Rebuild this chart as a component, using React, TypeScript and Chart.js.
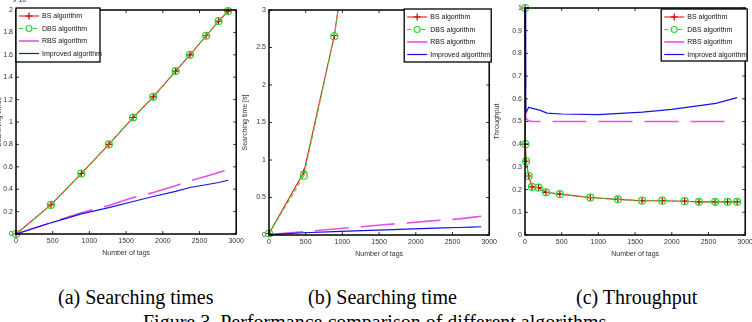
import React, { useEffect, useRef } from 'react';
import { Chart, registerables } from 'chart.js';
Chart.register(...registerables);

// ---------- data ----------
const legendLabels = ['BS algorithm', 'DBS algorithm', 'RBS algorithm', 'Improved algorithm'];
const xTicks = [0, 500, 1000, 1500, 2000, 2500, 3000];

// (a) searching times (x 10^4)
const tagsA = [1, 475, 890, 1265, 1595, 1870, 2175, 2370, 2590, 2760, 2890];
const bsA = [0, 0.26, 0.54, 0.8, 1.04, 1.225, 1.455, 1.6, 1.77, 1.9, 1.99];
const dbsA = [0, 0.26, 0.54, 0.8, 1.04, 1.225, 1.455, 1.6, 1.77, 1.9, 1.99];
const rbsA = [0, 0.1, 0.19, 0.255, 0.325, 0.37, 0.43, 0.475, 0.515, 0.55, 0.575];
const impA = [0, 0.1, 0.18, 0.235, 0.29, 0.335, 0.38, 0.415, 0.44, 0.46, 0.48];

// (b) searching time [s]
const tagsB = [1, 475, 890, 1265];
const bsB = [0.02, 0.84, 2.66, 5.2];
const dbsB = [0.02, 0.79, 2.65, 5.2];
const tagsB2 = [1, 475, 890, 1265, 1595, 1870, 2175, 2370, 2590, 2760, 2890];
const rbsB = [0.005, 0.045, 0.08, 0.11, 0.14, 0.16, 0.185, 0.2, 0.215, 0.235, 0.25];
const impB = [0.005, 0.03, 0.045, 0.058, 0.068, 0.078, 0.088, 0.095, 0.1, 0.106, 0.11];

// (c) throughput
const tagsC = [1, 5, 15, 50, 95, 185, 285, 475, 890, 1265, 1595, 1870, 2175, 2370, 2590, 2760, 2890];
const bsC = [1.0, 0.4, 0.325, 0.26, 0.212, 0.209, 0.188, 0.18, 0.165, 0.157, 0.151, 0.151, 0.149, 0.146, 0.146, 0.146, 0.146];
const dbsC = [1.0, 0.4, 0.325, 0.26, 0.212, 0.209, 0.188, 0.18, 0.165, 0.157, 0.151, 0.151, 0.149, 0.146, 0.146, 0.146, 0.146];
const tagsC2 = [1, 10, 50, 100, 300, 900, 1600, 2200, 2750];
const rbsC = [1.0, 0.515, 0.503, 0.5, 0.5, 0.5, 0.5, 0.5, 0.5];
const tagsC3 = [1, 10, 50, 100, 200, 300, 500, 1000, 1600, 2000, 2400, 2600, 2890];
const impC = [1.0, 0.537, 0.563, 0.558, 0.55, 0.537, 0.533, 0.53, 0.541, 0.553, 0.571, 0.58, 0.605];

// ---------- styles ----------
const RED = '#f01414';
const GREEN = '#2fd42f';
const PINK = '#e650e6';
const BLUE = '#1414e6';
const FONT = "'Liberation Sans', Arial, Helvetica, sans-serif";

const pts = (xs: number[], ys: number[]) => xs.map((x, i) => ({ x, y: ys[i] }));

function makeDatasets(bs: any[], dbs: any[], rbs: any[], imp: any[]) {
  return [
    { label: legendLabels[0], data: bs, borderColor: RED, backgroundColor: RED, borderWidth: 1.1,
      pointStyle: 'cross', pointRadius: 3.5, pointBorderWidth: 1.2, pointBorderColor: '#c00000', order: 4 },
    { label: legendLabels[1], data: dbs, borderColor: GREEN, backgroundColor: 'rgba(0,0,0,0)', borderWidth: 1.1,
      borderDash: [4, 3], pointStyle: 'circle', pointRadius: 3.5, pointBorderWidth: 1.2, pointBorderColor: GREEN, order: 3 },
    { label: legendLabels[2], data: rbs, borderColor: PINK, backgroundColor: PINK, borderWidth: 1.6,
      borderDash: [34, 12], pointRadius: 0, order: 2 },
    { label: legendLabels[3], data: imp, borderColor: BLUE, backgroundColor: BLUE, borderWidth: 1.2,
      pointRadius: 0, order: 1 },
  ];
}

type PanelCfg = {
  left: number; top: number; width: number; height: number;
  yWidth: number; xHeight: number; padTop: number; padRight: number;
  yMax: number; yStep: number; yTitle: string;
  legend: { side: 'left' | 'right'; dx: number; dy: number; w: number; h: number };
  clipTop: number;
  exponent?: boolean;
  datasets: any[];
};

const framePlugin = {
  id: 'matlabFrame',
  afterDraw(chart: any) {
    const cfg = chart.options.plugins.matlabFrame as PanelCfg;
    const ctx = chart.ctx;
    const ca = chart.chartArea;
    const xs = chart.scales.x;
    const ys = chart.scales.y;
    ctx.save();
    // inner ticks
    ctx.strokeStyle = '#000';
    ctx.lineWidth = 0.8;
    ctx.beginPath();
    xs.ticks.forEach((t: any) => {
      const px = xs.getPixelForValue(t.value);
      ctx.moveTo(px, ca.bottom); ctx.lineTo(px, ca.bottom - 3);
      ctx.moveTo(px, ca.top); ctx.lineTo(px, ca.top + 3);
    });
    ys.ticks.forEach((t: any) => {
      const py = ys.getPixelForValue(t.value);
      ctx.moveTo(ca.left, py); ctx.lineTo(ca.left + 3, py);
      ctx.moveTo(ca.right, py); ctx.lineTo(ca.right - 3, py);
    });
    ctx.stroke();
    // box
    ctx.lineWidth = 1.5;
    ctx.strokeRect(ca.left, ca.top, ca.right - ca.left, ca.bottom - ca.top);

    // exponent
    if (cfg.exponent) {
      ctx.fillStyle = '#222';
      ctx.font = `7px ${FONT}`;
      ctx.textBaseline = 'bottom';
      ctx.textAlign = 'left';
      ctx.fillText('x 10', ca.left - 3, ca.top - 6);
    }

    // legend
    const lg = cfg.legend;
    const bx = lg.side === 'left' ? ca.left + lg.dx : ca.right + lg.dx - lg.w;
    const by = ca.top + lg.dy;
    ctx.fillStyle = '#fff';
    ctx.fillRect(bx, by, lg.w, lg.h);
    ctx.lineWidth = 1.3;
    ctx.strokeStyle = '#000';
    ctx.strokeRect(bx, by, lg.w, lg.h);
    chart.data.datasets.forEach((ds: any, i: number) => {
      const cy = by + 8 + i * 12.5;
      const x0 = bx + 3, x1 = bx + 23;
      ctx.save();
      ctx.strokeStyle = ds.borderColor;
      ctx.lineWidth = ds.borderWidth;
      ctx.setLineDash(ds.borderDash ? [4, 3] : []);
      if (i === 2) ctx.setLineDash([]);
      ctx.beginPath();
      ctx.moveTo(x0, cy); ctx.lineTo(x1, cy);
      ctx.stroke();
      ctx.setLineDash([]);
      const mx = (x0 + x1) / 2;
      if (ds.pointStyle === 'cross' && ds.pointRadius > 0) {
        ctx.strokeStyle = ds.pointBorderColor;
        ctx.lineWidth = 1.2;
        ctx.beginPath();
        ctx.moveTo(mx - 3.5, cy); ctx.lineTo(mx + 3.5, cy);
        ctx.moveTo(mx, cy - 3.5); ctx.lineTo(mx, cy + 3.5);
        ctx.stroke();
      } else if (ds.pointStyle === 'circle' && ds.pointRadius > 0) {
        ctx.strokeStyle = ds.pointBorderColor;
        ctx.fillStyle = '#fff';
        ctx.lineWidth = 1.2;
        ctx.beginPath();
        ctx.arc(mx, cy, 3, 0, Math.PI * 2);
        ctx.fill();
        ctx.stroke();
      }
      ctx.restore();
      ctx.fillStyle = '#111';
      ctx.font = `7px ${FONT}`;
      ctx.textBaseline = 'middle';
      ctx.textAlign = 'left';
      ctx.fillText(ds.label, bx + 26, cy + 0.5);
    });
    ctx.restore();
  },
};

function Panel({ cfg }: { cfg: PanelCfg }) {
  const ref = useRef<HTMLCanvasElement | null>(null);
  useEffect(() => {
    if (!ref.current) return;
    const fmt = (v: any) => String(+Number(v).toFixed(2));
    const chart = new Chart(ref.current, {
      type: 'line',
      data: { datasets: cfg.datasets.map((d) => ({ ...d, tension: 0, clip: { left: 6, right: 6, bottom: 6, top: cfg.clipTop } })) },
      options: {
        animation: false,
        responsive: false,
        maintainAspectRatio: false,
        layout: { padding: { top: cfg.padTop, right: cfg.padRight, left: 0, bottom: 0 } },
        plugins: {
          legend: { display: false },
          tooltip: { enabled: false },
          matlabFrame: cfg,
        } as any,
        scales: {
          x: {
            type: 'linear', min: 0, max: 3000,
            afterBuildTicks: (s: any) => { s.ticks = xTicks.map((v) => ({ value: v })); },
            afterFit: (s: any) => { s.height = cfg.xHeight; },
            grid: { display: false, drawTicks: false },
            border: { display: false },
            ticks: { padding: 3, color: '#333', font: { family: FONT, size: 7 }, maxRotation: 0, autoSkip: false, callback: fmt },
            title: { display: true, text: 'Number of tags', color: '#333', padding: 0, font: { family: FONT, size: 7 } },
          },
          y: {
            type: 'linear', min: 0, max: cfg.yMax,
            ticks: { stepSize: cfg.yStep, padding: 3, color: '#333', font: { family: FONT, size: 7 }, autoSkip: false, callback: fmt },
            afterFit: (s: any) => { s.width = cfg.yWidth; },
            grid: { display: false, drawTicks: false },
            border: { display: false },
            title: { display: true, text: cfg.yTitle, color: '#333', padding: 0, font: { family: FONT, size: 7 } },
          },
        },
      } as any,
      plugins: [framePlugin],
    });
    return () => chart.destroy();
  }, [cfg]);
  return (
    <canvas
      ref={ref}
      width={cfg.width}
      height={cfg.height}
      style={{ position: 'absolute', left: cfg.left, top: cfg.top, width: cfg.width, height: cfg.height }}
    />
  );
}

const panelA: PanelCfg = {
  left: -5, top: 0, width: 252, height: 257, yWidth: 21, xHeight: 23, padTop: 10, padRight: 10,
  yMax: 2, yStep: 0.2, yTitle: 'Searching times', clipTop: 6, exponent: true,
  legend: { side: 'left', dx: 0, dy: -2, w: 84, h: 54 },
  datasets: makeDatasets(pts(tagsA, bsA), pts(tagsA, dbsA), pts(tagsA, rbsA), pts(tagsA, impA)),
};
const panelB: PanelCfg = {
  left: 241, top: 0, width: 259, height: 258, yWidth: 28, xHeight: 23, padTop: 10, padRight: 9,
  yMax: 3, yStep: 0.5, yTitle: 'Searching time [s]', clipTop: 0,
  legend: { side: 'right', dx: 2, dy: -1, w: 87, h: 53 },
  datasets: makeDatasets(pts(tagsB, bsB), pts(tagsB, dbsB), pts(tagsB2, rbsB), pts(tagsB2, impB)),
};
const panelC: PanelCfg = {
  left: 493, top: 0, width: 263, height: 258, yWidth: 32, xHeight: 23, padTop: 8, padRight: 10,
  yMax: 1, yStep: 0.1, yTitle: 'Throughput', clipTop: 6,
  legend: { side: 'right', dx: 2, dy: 1, w: 86, h: 52 },
  datasets: makeDatasets(pts(tagsC, bsC), pts(tagsC, dbsC), pts(tagsC2, rbsC), pts(tagsC3, impC)),
};

const SERIF = "'Liberation Serif', 'Times New Roman', Times, serif";
const capStyle = (left: number, top: number): React.CSSProperties => ({
  position: 'absolute', left, top, fontFamily: SERIF, fontSize: 20, lineHeight: '22px',
  whiteSpace: 'nowrap', color: '#000',
});

export default function App() {
  return (
    <div style={{ position: 'absolute', left: 0, top: 0, width: 752, height: 322, overflow: 'hidden', background: '#fff' }}>
      <Panel cfg={panelA} />
      <Panel cfg={panelB} />
      <Panel cfg={panelC} />
      <div style={capStyle(58, 286)}>(a) Searching times</div>
      <div style={capStyle(308, 286)}>(b) Searching time</div>
      <div style={capStyle(576, 286)}>(c) Throughput</div>
      <div style={capStyle(143, 311)}>Figure 3. Performance comparison of different algorithms</div>
    </div>
  );
}
